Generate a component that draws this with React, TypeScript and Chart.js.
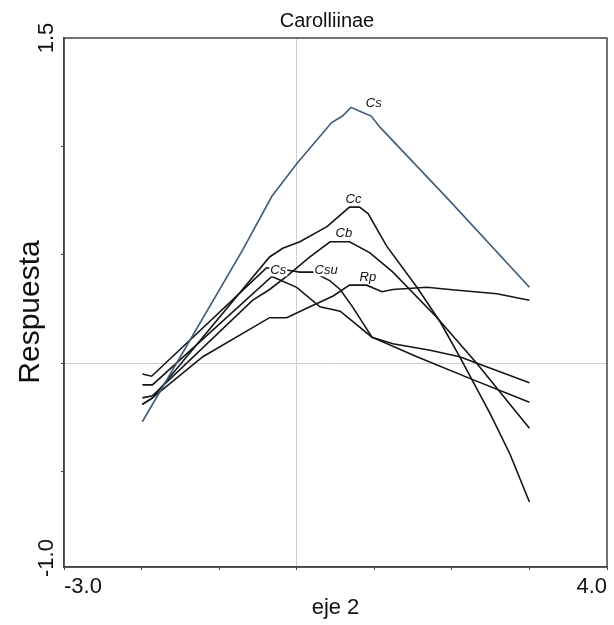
import React, { useEffect, useRef } from "react";
import { Chart, registerables } from "chart.js";

Chart.register(...registerables);

// ---- text ----
const chartTitle = "Carolliinae";
const xAxisTitle = "eje 2";
const yAxisTitle = "Respuesta";
const xTickLabels = ["-3.0", "4.0"];
const yTickLabels = ["-1.0", "1.5"];

// ---- axis ranges ----
const xMin = -3;
const xMax = 4;
const yMin = -0.94;
const yMax = 1.5;

// ---- series ----
const seriesNames = ["Cs", "Cc", "Cb", "Cs", "Csu", "Rp"];

const csBlueX = [-1.99, -0.7, -0.32, 0.0, 0.45, 0.59, 0.7, 0.83, 0.96, 1.07, 1.97, 3.0];
const csBlueY = [-0.27, 0.52, 0.77, 0.92, 1.11, 1.14, 1.18, 1.16, 1.14, 1.09, 0.75, 0.35];

const ccX = [-1.99, -1.86, -0.35, -0.18, 0.04, 0.39, 0.68, 0.81, 0.92, 1.16, 1.55, 1.85, 2.1, 2.49, 2.75, 3.0];
const ccY = [-0.19, -0.16, 0.49, 0.53, 0.56, 0.63, 0.72, 0.72, 0.69, 0.54, 0.35, 0.19, 0.03, -0.23, -0.42, -0.64];

const cbX = [-1.99, -1.86, -0.57, -0.35, -0.13, 0.17, 0.43, 0.68, 0.94, 1.24, 1.81, 2.32, 3.0];
const cbY = [-0.16, -0.15, 0.29, 0.34, 0.4, 0.49, 0.56, 0.56, 0.51, 0.42, 0.21, 0.0, -0.3];

const csBlackX = [-1.99, -1.86, -0.32, 0.0, 0.3, 0.56, 0.97, 1.24, 1.72, 2.1, 3.0];
const csBlackY = [-0.1, -0.1, 0.4, 0.35, 0.26, 0.24, 0.12, 0.09, 0.06, 0.03, -0.09];

const csuX = [-1.99, -1.87, -0.39, -0.13, 0.04, 0.21, 0.43, 0.56, 0.72, 0.97, 1.55, 2.23, 3.0];
const csuY = [-0.05, -0.06, 0.44, 0.43, 0.42, 0.42, 0.38, 0.34, 0.26, 0.12, 0.03, -0.07, -0.18];

const rpX = [-1.99, -1.86, -1.21, -0.35, -0.13, 0.17, 0.47, 0.68, 0.9, 1.1, 1.24, 1.68, 1.97, 2.58, 3.0];
const rpY = [-0.19, -0.16, 0.03, 0.21, 0.21, 0.26, 0.31, 0.36, 0.36, 0.33, 0.34, 0.35, 0.34, 0.32, 0.29];

// ---- curve label anchors (data coords, text left / baseline) ----
const labelX = [0.89, 0.63, 0.5, -0.34, 0.23, 0.81];
const labelY = [1.18, 0.74, 0.58, 0.41, 0.41, 0.38];

const FONT = "'Liberation Sans', Arial, Helvetica, sans-serif";
const AXIS_COLOR = "#444444";
const LINE_COLOR = "#151515";
const BLUE_COLOR = "#3f5b76";
const GRID_COLOR = "#cfcfcf";

function pts(xs: number[], ys: number[]) {
  return xs.map((x, i) => ({ x, y: ys[i] }));
}

const textPlugin = {
  id: "textAndFrame",
  afterDatasetsDraw(chart: any) {
    const { ctx, scales } = chart;
    const xs = scales.x;
    const ys = scales.y;
    ctx.save();
    ctx.font = `italic 13px ${FONT}`;
    ctx.textAlign = "left";
    ctx.textBaseline = "alphabetic";
    seriesNames.forEach((name, i) => {
      const px = xs.getPixelForValue(labelX[i]);
      const py = ys.getPixelForValue(labelY[i]);
      const w = ctx.measureText(name).width;
      ctx.fillStyle = "#ffffff";
      ctx.fillRect(px - 1, py - 10, w + 2, 12);
      ctx.fillStyle = "#111111";
      ctx.fillText(name, px, py);
    });
    ctx.restore();
  },
  afterDraw(chart: any) {
    const { ctx, chartArea: a } = chart;
    ctx.save();
    // frame
    ctx.strokeStyle = AXIS_COLOR;
    ctx.lineWidth = 1.5;
    ctx.strokeRect(a.left, a.top, a.right - a.left, a.bottom - a.top);

    ctx.fillStyle = "#111111";
    // title
    ctx.font = `20px ${FONT}`;
    ctx.textAlign = "center";
    ctx.textBaseline = "alphabetic";
    ctx.fillText(chartTitle, 327, 27);

    // x axis title
    ctx.font = `22px ${FONT}`;
    ctx.fillText(xAxisTitle, (a.left + a.right) / 2, 614);

    // y axis title
    ctx.save();
    ctx.translate(39, 312);
    ctx.rotate(-Math.PI / 2);
    ctx.font = `30px ${FONT}`;
    ctx.textAlign = "center";
    ctx.fillText(yAxisTitle, 0, 0);
    ctx.restore();

    // y tick labels (rotated)
    ctx.font = `22px ${FONT}`;
    ctx.save();
    ctx.translate(53, a.bottom + 10);
    ctx.rotate(-Math.PI / 2);
    ctx.textAlign = "left";
    ctx.fillText(yTickLabels[0], 0, 0);
    ctx.restore();
    ctx.save();
    ctx.translate(53, a.top);
    ctx.rotate(-Math.PI / 2);
    ctx.textAlign = "center";
    ctx.fillText(yTickLabels[1], 0, 0);
    ctx.restore();

    ctx.restore();
  },
};

export default function App() {
  const canvasRef = useRef<HTMLCanvasElement | null>(null);

  useEffect(() => {
    if (!canvasRef.current) return;
    const mk = (xs: number[], ys: number[], color: string) => ({
      data: pts(xs, ys),
      showLine: true,
      borderColor: color,
      borderWidth: 1.6,
      pointRadius: 0,
      tension: 0,
      fill: false,
    });
    const chart = new Chart(canvasRef.current, {
      type: "scatter",
      data: {
        datasets: [
          mk(csBlueX, csBlueY, BLUE_COLOR),
          mk(ccX, ccY, LINE_COLOR),
          mk(cbX, cbY, LINE_COLOR),
          mk(csBlackX, csBlackY, LINE_COLOR),
          mk(csuX, csuY, LINE_COLOR),
          mk(rpX, rpY, LINE_COLOR),
        ],
      },
      options: {
        animation: false,
        responsive: false,
        devicePixelRatio: 1,
        layout: { padding: { left: 0, right: 7, top: 38, bottom: 0 } },
        plugins: {
          legend: { display: false },
          title: { display: false },
          tooltip: { enabled: false },
        },
        scales: {
          x: {
            type: "linear",
            min: xMin,
            max: xMax,
            afterFit: (s: any) => {
              s.height = 58;
            },
            ticks: {
              stepSize: 1,
              autoSkip: false,
              maxRotation: 0,
              minRotation: 0,
              align: "inner",
              padding: 4,
              color: "#111111",
              font: { family: FONT, size: 22 },
              callback: (v: any) =>
                v === xMin ? xTickLabels[0] : v === xMax ? xTickLabels[1] : "",
            },
            grid: {
              color: (c: any) => (c.tick && c.tick.value === 0 ? GRID_COLOR : "rgba(0,0,0,0)"),
              lineWidth: 1,
              drawTicks: true,
              tickLength: 3,
              tickColor: AXIS_COLOR,
            },
            border: { display: true, color: AXIS_COLOR, width: 1.5 },
          },
          y: {
            type: "linear",
            min: yMin,
            max: yMax,
            afterFit: (s: any) => {
              s.width = 64;
            },
            ticks: { stepSize: 0.5, display: false },
            grid: {
              color: (c: any) => (c.tick && c.tick.value === 0 ? GRID_COLOR : "rgba(0,0,0,0)"),
              lineWidth: 1,
              drawTicks: true,
              tickLength: 3,
              tickColor: (c: any) =>
                c.tick && (c.tick.value === yMin || c.tick.value === yMax) ? "rgba(0,0,0,0)" : AXIS_COLOR,
            },
            border: { display: true, color: AXIS_COLOR, width: 1.5 },
          },
        },
      },
      plugins: [textPlugin],
    });
    return () => chart.destroy();
  }, []);

  return (
    <div style={{ position: "fixed", left: 0, top: 0, width: 614, height: 625, background: "#ffffff" }}>
      <canvas ref={canvasRef} width={614} height={625} style={{ display: "block" }} />
    </div>
  );
}
